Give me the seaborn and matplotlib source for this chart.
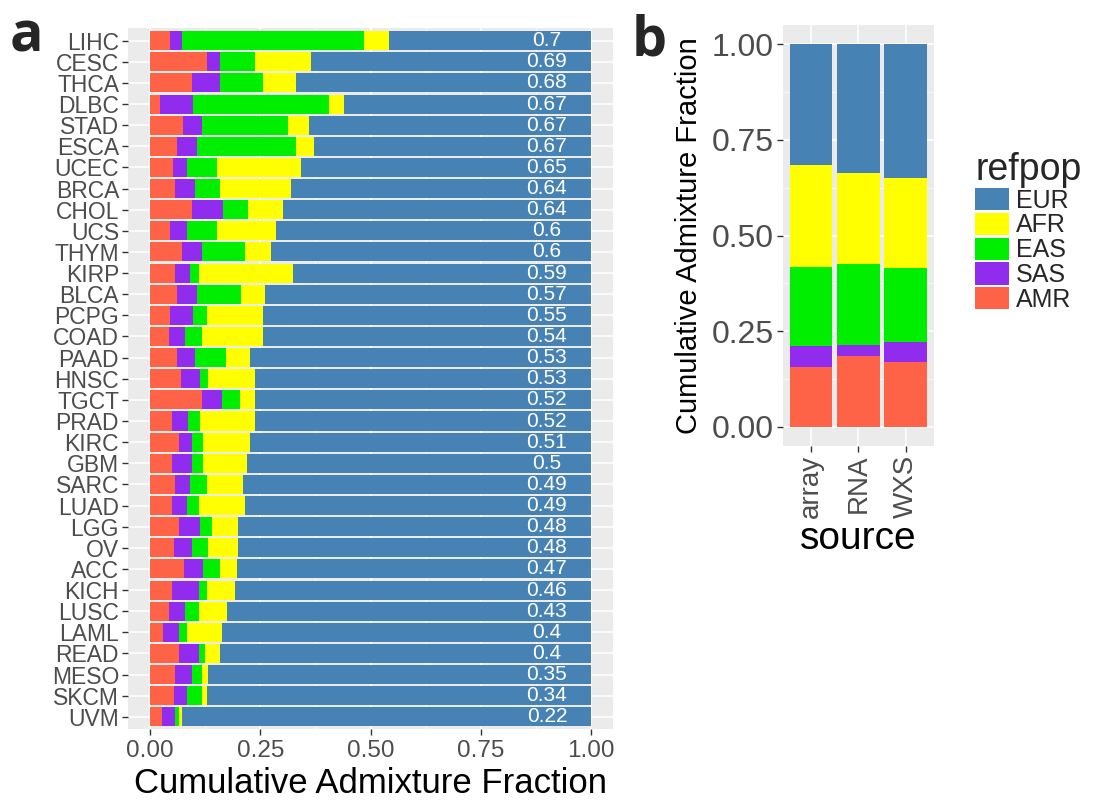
import numpy as np
import pandas as pd
import matplotlib
matplotlib.use("Agg")
import matplotlib.pyplot as plt
import seaborn as sns
from matplotlib.patches import Patch

# panel a: cumulative end of each population block per cancer type
cancers = ["LIHC", "CESC", "THCA", "DLBC", "STAD", "ESCA", "UCEC", "BRCA", "CHOL",
           "UCS", "THYM", "KIRP", "BLCA", "PCPG", "COAD", "PAAD", "HNSC", "TGCT",
           "PRAD", "KIRC", "GBM", "SARC", "LUAD", "LGG", "OV", "ACC", "KICH",
           "LUSC", "LAML", "READ", "MESO", "SKCM", "UVM"]
amr_end = [0.046, 0.128, 0.095, 0.023, 0.075, 0.061, 0.053, 0.057, 0.095, 0.046, 0.072,
           0.057, 0.061, 0.046, 0.042, 0.061, 0.069, 0.117, 0.050, 0.065, 0.050, 0.057,
           0.050, 0.065, 0.054, 0.076, 0.050, 0.042, 0.030, 0.065, 0.057, 0.054, 0.027]
sas_end = [0.072, 0.158, 0.158, 0.098, 0.117, 0.106, 0.083, 0.103, 0.166, 0.083, 0.117,
           0.091, 0.106, 0.098, 0.080, 0.103, 0.113, 0.163, 0.087, 0.095, 0.095, 0.091,
           0.083, 0.113, 0.095, 0.121, 0.110, 0.080, 0.065, 0.110, 0.095, 0.083, 0.057]
eas_end = [0.485, 0.238, 0.256, 0.406, 0.312, 0.331, 0.151, 0.158, 0.222, 0.151, 0.215,
           0.110, 0.207, 0.129, 0.117, 0.173, 0.132, 0.203, 0.113, 0.121, 0.121, 0.129,
           0.110, 0.140, 0.132, 0.158, 0.129, 0.110, 0.083, 0.125, 0.117, 0.117, 0.065]
afr_end = [0.541, 0.365, 0.331, 0.440, 0.361, 0.372, 0.343, 0.320, 0.301, 0.286, 0.275,
           0.324, 0.260, 0.256, 0.256, 0.226, 0.238, 0.238, 0.238, 0.226, 0.219, 0.211,
           0.215, 0.200, 0.200, 0.196, 0.192, 0.174, 0.163, 0.158, 0.132, 0.129, 0.072]
eur_end = [1.0] * len(cancers)
bar_labels = ["0.7", "0.69", "0.68", "0.67", "0.67", "0.67", "0.65", "0.64", "0.64",
              "0.6", "0.6", "0.59", "0.57", "0.55", "0.54", "0.53", "0.53", "0.52",
              "0.52", "0.51", "0.5", "0.49", "0.49", "0.48", "0.48", "0.47", "0.46",
              "0.43", "0.4", "0.4", "0.35", "0.34", "0.22"]

# panel b: by data source
sources = ["array", "RNA", "WXS"]
src_amr_end = [0.155, 0.185, 0.170]
src_sas_end = [0.211, 0.214, 0.222]
src_eas_end = [0.417, 0.425, 0.414]
src_afr_end = [0.684, 0.664, 0.650]
src_eur_end = [1.0, 1.0, 1.0]

pops = ["EUR", "AFR", "EAS", "SAS", "AMR"]
pop_colors = {"EUR": "#4682B4", "AFR": "#FFFF00", "EAS": "#00EE00",
              "SAS": "#912CEE", "AMR": "#FF6347"}

sns.set_theme(style="darkgrid", rc={
    "axes.facecolor": "#EBEBEB",
    "grid.color": "white",
    "xtick.major.size": 4.5,
    "ytick.major.size": 4.5,
    "xtick.major.width": 1,
    "ytick.major.width": 1,
    "xtick.color": "#333333",
    "ytick.color": "#333333",
    "xtick.bottom": True,
    "ytick.left": True,
})
plt.rcParams['font.family'] = ['Liberation Sans', 'DejaVu Sans']
grey = "#4D4D4D"

df_a = pd.DataFrame({"cancer": cancers, "EUR": eur_end, "AFR": afr_end,
                     "EAS": eas_end, "SAS": sas_end, "AMR": amr_end})
df_b = pd.DataFrame({"source": sources, "EUR": src_eur_end, "AFR": src_afr_end,
                     "EAS": src_eas_end, "SAS": src_sas_end, "AMR": src_amr_end})

fig = plt.figure(figsize=(11, 8.02), dpi=100)
ax_a = fig.add_axes([0.1164, 0.0904, 0.4409, 0.8747])
ax_b = fig.add_axes([0.7115, 0.4441, 0.1378, 0.5244])

# ---- panel a
for pop in pops:
    sns.barplot(data=df_a, x=pop, y="cancer", orient="h", order=cancers,
                color=pop_colors[pop], width=0.9, saturation=1, linewidth=0,
                errorbar=None, ax=ax_a)
for i, lab in enumerate(bar_labels):
    ax_a.text(0.9, i, lab, color="white", ha="center", va="center", fontsize=15)

ax_a.set_xlim(-0.05, 1.05)
ax_a.set_ylim(len(cancers) - 0.4, -0.6)
ax_a.set_xticks([0, 0.25, 0.5, 0.75, 1.0])
ax_a.set_xticklabels(["0.00", "0.25", "0.50", "0.75", "1.00"])
ax_a.set_xticks([0.125, 0.375, 0.625, 0.875], minor=True)
ax_a.set_axisbelow(True)
ax_a.grid(True, which="major", color="white", lw=1.1)
ax_a.grid(True, which="minor", axis="x", color="white", lw=0.5)
ax_a.tick_params(which="minor", length=0)
ax_a.tick_params(axis="x", labelsize=17.5, labelcolor=grey, pad=3)
ax_a.tick_params(axis="y", labelsize=16.5, labelcolor=grey, pad=2)
ax_a.set_xlabel("Cumulative Admixture Fraction", fontsize=25, color="black", labelpad=4)
ax_a.set_ylabel("")
for s in ax_a.spines.values():
    s.set_visible(False)

# ---- panel b
for pop in pops:
    sns.barplot(data=df_b, x="source", y=pop, order=sources,
                color=pop_colors[pop], width=0.9, saturation=1, linewidth=0,
                errorbar=None, ax=ax_b)
ax_b.set_xlim(-0.6, len(sources) - 0.4)
ax_b.set_ylim(-0.05, 1.05)
ax_b.set_yticks([0, 0.25, 0.5, 0.75, 1.0])
ax_b.set_yticklabels(["0.00", "0.25", "0.50", "0.75", "1.00"])
ax_b.set_yticks([0.125, 0.375, 0.625, 0.875], minor=True)
ax_b.set_axisbelow(True)
ax_b.grid(True, which="major", color="white", lw=1.1)
ax_b.grid(True, which="minor", axis="y", color="white", lw=0.5)
ax_b.tick_params(which="minor", length=0)
ax_b.tick_params(axis="y", labelsize=23, labelcolor=grey, pad=2)
ax_b.tick_params(axis="x", labelsize=20, labelcolor=grey, pad=2, labelrotation=90)
ax_b.set_xlabel("source", fontsize=28, color="black", labelpad=2)
ax_b.set_ylabel("Cumulative Admixture Fraction", fontsize=21, color="black", labelpad=6)
for s in ax_b.spines.values():
    s.set_visible(False)

handles = [Patch(facecolor=pop_colors[p], edgecolor="none") for p in pops]
fig.legend(handles, pops, title="refpop", loc="upper left",
           bbox_to_anchor=(975 / 1100, 1 - 152 / 802), frameon=False,
           fontsize=18, title_fontsize=27, handlelength=1.35, handleheight=1.0,
           handletextpad=0.3, labelspacing=0.0, borderpad=0, borderaxespad=0,
           alignment="left")

fig.text(10 / 1100, 1 - 52 / 802, "a", fontsize=40, fontweight="bold",
         family=["Open Sans", "DejaVu Sans"], va="baseline")
fig.text(632 / 1100, 1 - 55 / 802, "b", fontsize=40, fontweight="bold",
         family=["Open Sans", "DejaVu Sans"], va="baseline")

fig.savefig("out.png", dpi=100)
